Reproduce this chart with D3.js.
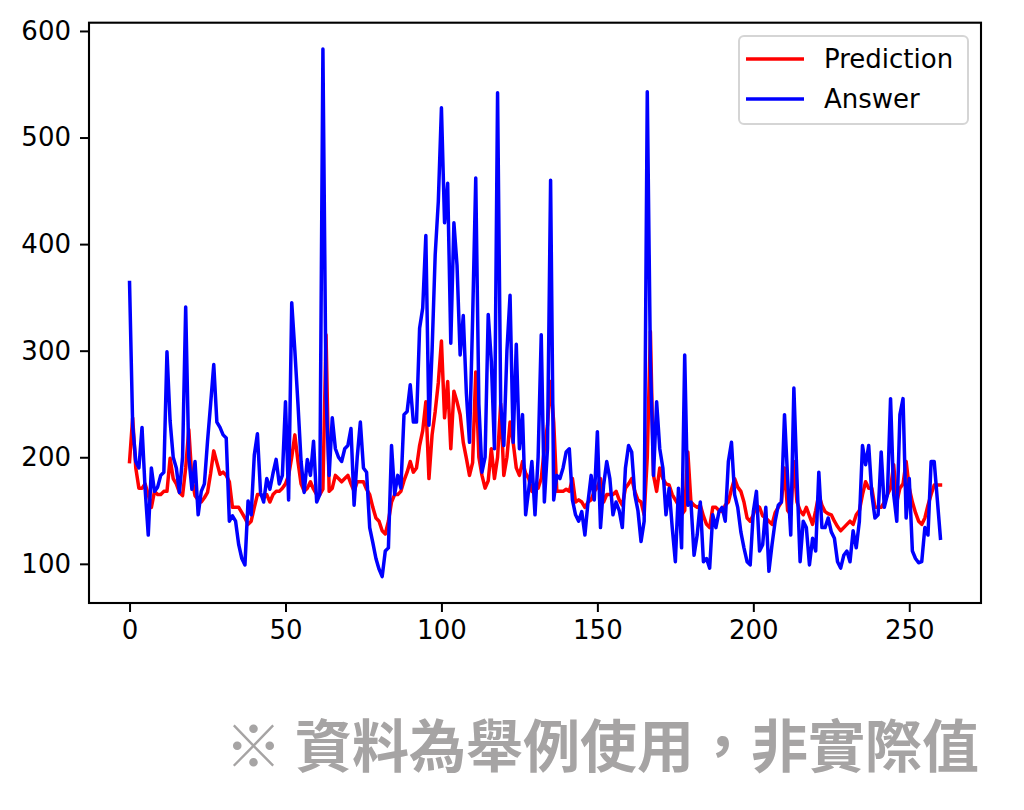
<!DOCTYPE html>
<html>
<head>
<meta charset="utf-8">
<script src="https://cdn.jsdelivr.net/npm/d3@7"></script>
<style>
  html, body { margin: 0; padding: 0; background: #fff; }
  svg { display: block; }
</style>
</head>
<body>
<svg id="chart" width="1024" height="810"></svg>
<script>
// ---- Data ----
const seriesNames = ["Prediction", "Answer"];
const seriesColors = ["#ff0000", "#0000ff"];

const prediction = [
  196, 237, 190, 171, 171, 175, 165, 153, 168, 165,
  165, 168, 168, 199, 180, 175, 167, 164, 190, 226,
  180, 164, 160, 158, 162, 167, 185, 206, 195, 184,
  186, 183, 177, 153, 153, 153, 148, 143, 137, 140,
  153, 165, 165, 162, 165, 158, 165, 168, 168, 171,
  175, 183, 200, 221, 196, 175, 168, 171, 177, 170,
  165, 165, 170, 315, 168, 171, 183, 180, 177, 180,
  183, 175, 168, 177, 177, 177, 170, 165, 153, 143,
  140, 131, 128, 140, 158, 165, 165, 168, 178, 186,
  196, 186, 190, 211, 225, 252, 180, 221, 243, 270,
  309, 237, 271, 208, 262, 252, 240, 214, 199, 183,
  195, 280, 200, 183, 171, 178, 208, 180, 200, 250,
  183, 200, 233, 214, 190, 183, 196, 185, 180, 168,
  171, 171, 180, 208, 230, 271, 233, 168, 168, 168,
  170, 168, 180, 158, 160, 158, 153, 158, 160, 168,
  172, 180, 158, 165, 165, 165, 168, 160, 155, 171,
  175, 180, 168, 160, 158, 146, 200, 318, 183, 168,
  190, 180, 175, 174, 165, 160, 155, 146, 150, 205,
  158, 155, 153, 155, 145, 137, 134, 153, 153, 150,
  149, 155, 158, 170, 180, 172, 168, 158, 143, 140,
  146, 155, 153, 145, 143, 140, 137, 148, 153, 158,
  190, 150, 146, 196, 158, 150, 146, 153, 145, 137,
  150, 165, 155, 149, 147, 146, 140, 135, 131, 134,
  137, 140, 137, 146, 150, 165, 177, 171, 171, 153,
  153, 153, 158, 165, 171, 193, 158, 171, 175, 196,
  171, 158, 148, 140, 137, 143, 155, 165, 174, 174,
  174
];

const answer = [
  364, 230, 196, 190, 228, 170, 127, 190, 168, 172,
  183, 186, 299, 234, 200, 190, 167, 200, 341, 200,
  170, 196, 146, 168, 175, 215, 250, 287, 233, 228,
  221, 218, 140, 145, 140, 118, 105, 99, 159, 146,
  202, 222, 167, 158, 180, 170, 185, 198, 175, 183,
  252, 160, 345, 300, 250, 196, 167, 198, 183, 215,
  158, 165, 583, 258, 183, 237, 208, 200, 196, 208,
  211, 227, 155, 200, 233, 190, 186, 134, 120, 105,
  95, 88, 112, 115, 211, 165, 183, 171, 240, 243,
  268, 233, 233, 321, 340, 408, 230, 300, 390, 440,
  528, 420, 457, 307, 420, 380, 296, 333, 260, 214,
  330, 462, 250, 186, 200, 334, 290, 208, 542, 250,
  211, 300, 352, 214, 306, 208, 240, 146, 170, 196,
  146, 200, 315, 158, 208, 460, 160, 183, 180, 190,
  205, 208, 160, 146, 140, 149, 127, 158, 183, 160,
  224, 134, 174, 196, 180, 146, 158, 150, 134, 190,
  211, 205, 165, 150, 121, 140, 543, 290, 183, 252,
  208, 190, 146, 171, 134, 102, 171, 115, 296, 155,
  158, 108, 127, 158, 102, 105, 96, 146, 134, 149,
  153, 140, 196, 214, 165, 153, 130, 115, 102, 99,
  149, 168, 112, 118, 153, 93, 118, 140, 155, 158,
  240, 180, 127, 265, 180, 102, 140, 134, 99, 124,
  112, 186, 134, 134, 143, 130, 124, 102, 96, 108,
  112, 102, 131, 115, 140, 211, 193, 211, 165, 143,
  146, 205, 153, 165, 255, 165, 140, 240, 255, 143,
  180, 112, 105, 101, 102, 134, 127, 196, 196, 160,
  124
];

const xTicks = [0, 50, 100, 150, 200, 250];
const yTicks = [100, 200, 300, 400, 500, 600];
const noteText = "※ 資料為舉例使用，非實際值";

// ---- Layout ----
const plot = { left: 89, right: 981, top: 22.7, bottom: 603 };
const font = "'DejaVu Sans', sans-serif";
const tickFont = 26;

const svg = d3.select("#chart");

const n = Math.max(prediction.length, answer.length);
const xPad = (n - 1) * 0.05;
const x = d3.scaleLinear()
  .domain([0 - xPad, (n - 1) + xPad])
  .range([plot.left, plot.right]);

const all = prediction.concat(answer);
const [ymin, ymax] = d3.extent(all);
const yPad = (ymax - ymin) * 0.05;
const y = d3.scaleLinear()
  .domain([ymin - yPad, ymax + yPad])
  .range([plot.bottom, plot.top]);

// clip
svg.append("defs").append("clipPath").attr("id", "clip")
  .append("rect")
  .attr("x", plot.left).attr("y", plot.top)
  .attr("width", plot.right - plot.left).attr("height", plot.bottom - plot.top);

const line = d3.line().x((d, i) => x(i)).y(d => y(d));

const g = svg.append("g").attr("clip-path", "url(#clip)");
[prediction, answer].forEach((s, k) => {
  g.append("path")
    .datum(s)
    .attr("fill", "none")
    .attr("stroke", seriesColors[k])
    .attr("stroke-width", 3.5)
    .attr("stroke-linejoin", "round")
    .attr("stroke-linecap", "square")
    .attr("d", line);
});

// axes
const xAxis = d3.axisBottom(x).tickValues(xTicks).tickSize(9).tickPadding(9).tickFormat(d3.format("d"));
const yAxis = d3.axisLeft(y).tickValues(yTicks).tickSize(9).tickPadding(9).tickFormat(d3.format("d"));

const gx = svg.append("g").attr("transform", `translate(0,${plot.bottom})`).call(xAxis);
const gy = svg.append("g").attr("transform", `translate(${plot.left},0)`).call(yAxis);
[gx, gy].forEach(a => {
  a.select(".domain").remove();
  a.selectAll(".tick line").attr("stroke", "#000").attr("stroke-width", 2);
  a.selectAll(".tick text")
    .attr("fill", "#000")
    .style("font-family", font)
    .style("font-size", tickFont + "px");
});

// frame
svg.append("rect")
  .attr("x", plot.left).attr("y", plot.top)
  .attr("width", plot.right - plot.left).attr("height", plot.bottom - plot.top)
  .attr("fill", "none").attr("stroke", "#000").attr("stroke-width", 2.1);

// legend
const lg = svg.append("g");
lg.append("rect")
  .attr("x", 739).attr("y", 36).attr("width", 229).attr("height", 88)
  .attr("rx", 5).attr("ry", 5)
  .attr("fill", "#fff").attr("fill-opacity", 0.8)
  .attr("stroke", "#d5d5d5").attr("stroke-width", 2);
seriesNames.forEach((name, k) => {
  const ly = 59 + k * 40;
  lg.append("line")
    .attr("x1", 746).attr("x2", 804).attr("y1", ly).attr("y2", ly)
    .attr("stroke", seriesColors[k]).attr("stroke-width", 3.5);
  lg.append("text")
    .attr("x", 824).attr("y", ly)
    .attr("dominant-baseline", "central")
    .style("font-family", font).style("font-size", tickFont + "px")
    .attr("fill", "#000")
    .text(name);
});

// note
svg.append("text")
  .attr("x", 979).attr("y", 767)
  .attr("text-anchor", "end")
  .style("font-family", "'Noto Sans CJK TC', 'Noto Sans CJK SC', sans-serif")
  .style("font-weight", "bold")
  .style("font-size", "57px")
  .attr("fill", "#a6a4a4")
  .text(noteText);
</script>
</body>
</html>
